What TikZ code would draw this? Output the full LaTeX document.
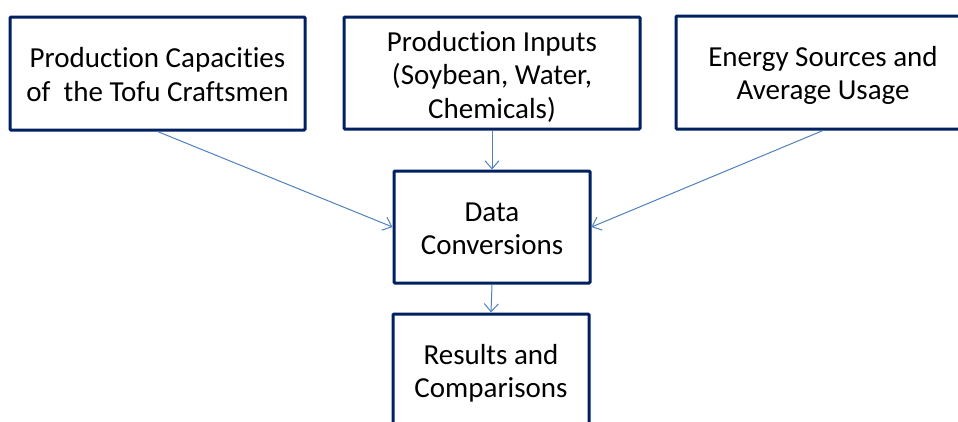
\documentclass[tikz,border=0pt]{standalone}
\usepackage{fontspec}
\setmainfont{Carlito}[Ligatures={NoCommon}]
\usetikzlibrary{arrows.meta}
\definecolor{boxline}{RGB}{0,32,96}
\definecolor{arrowblue}{RGB}{79,129,189}
\tikzset{
  box/.style={draw=boxline, line width=3pt, fill=white, inner sep=0pt, rounded corners=1pt},
  txt/.style={align=center, font=\fontsize{29}{33.5}\selectfont, inner sep=0pt},
  conn/.style={draw=arrowblue, line width=1pt,
    -{Straight Barb[length=8pt, width=14pt, line width=1pt]}}
}
\begin{document}
\begin{tikzpicture}[x=1pt, y=-1pt]
\useasboundingbox (0,0) rectangle (958,421);
\clip (0,0) rectangle (958,421);
\node[box, minimum width=295pt, minimum height=113pt] (cap) at (157.5,73.5) {};
\node[txt] (capt) at ([yshift=-1pt]cap.center)
  {Production Capacities\\of\ \ the Tofu Craftsmen};
\node[box, minimum width=296pt, minimum height=112pt] (inp) at (492,73) {};
\node[txt] (inpt) at ([yshift=-3.5pt]inp.center)
  {Production Inputs\\(Soybean, Water,\\Chemicals)};
\node[box, minimum width=294pt, minimum height=113pt] (ene) at (823,72.5) {};
\node[txt] (enet) at ([yshift=-3pt]ene.center)
  {Energy Sources and\\Average Usage};
\node[box, minimum width=196pt, minimum height=112pt] (dat) at (492,227) {};
\node[txt] (datt) at ([yshift=-2pt]dat.center)
  {Data\\Conversions};
\node[box, minimum width=196pt, minimum height=114pt] (res) at (491,371) {};
\node[txt] (rest) at ([yshift=-2.5pt]res.center)
  {Results and\\Comparisons};
\draw[conn] (cap.south) -- (dat.west);
\draw[conn] (inp.south) -- (dat.north);
\draw[conn] (ene.south) -- (dat.east);
\draw[conn] (dat.south) -- (res.north);
\end{tikzpicture}
\end{document}
